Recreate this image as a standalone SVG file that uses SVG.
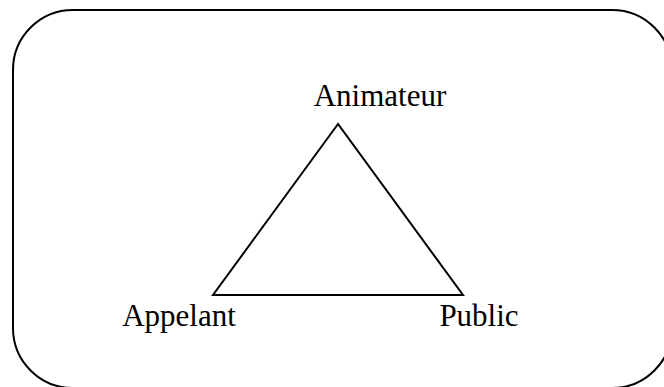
<svg xmlns="http://www.w3.org/2000/svg" width="664" height="387" viewBox="0 0 664 387">
<style>
.lbl{font-family:"Liberation Serif","Times New Roman",serif;font-size:31px;fill:#000;text-anchor:middle}
.ln{fill:none;stroke:#000;stroke-width:2}
</style>
<rect x="0" y="0" width="664" height="387" fill="#fff"/>
<rect id="frame" class="ln" x="13" y="10" width="659" height="378" rx="60" ry="60"/>
<g id="connectors">
<polygon class="ln" points="338,124 213,295 463,295" stroke-linejoin="miter"/>
</g>
<g id="animateur"><text class="lbl" x="380" y="106">Animateur</text></g>
<g id="appelant"><text class="lbl" x="179" y="326">Appelant</text></g>
<g id="public"><text class="lbl" x="479" y="326">Public</text></g>
</svg>
